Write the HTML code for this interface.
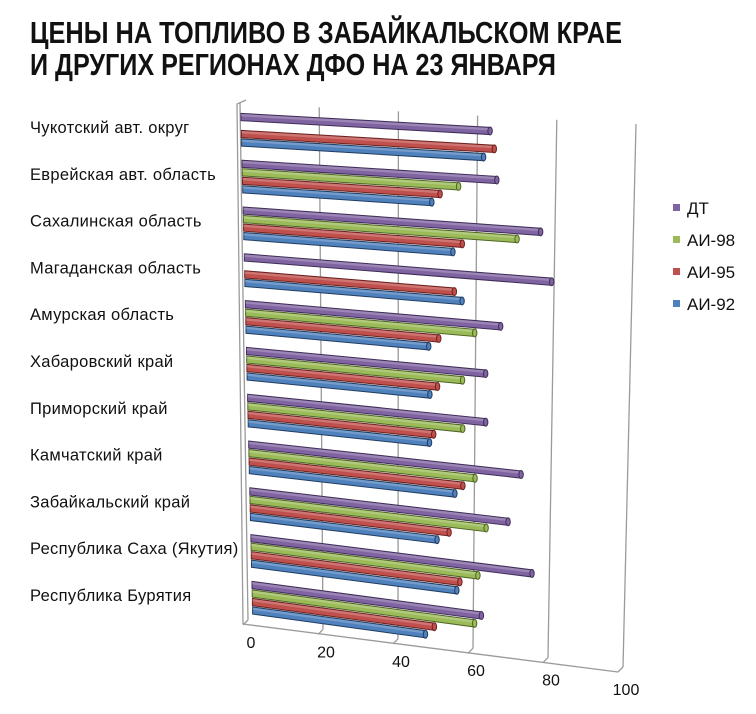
<!DOCTYPE html>
<html><head><meta charset="utf-8"><style>
html,body{margin:0;padding:0;background:#fff;}
svg{display:block;font-family:"Liberation Sans","Noto Sans CJK SC",sans-serif;}
</style></head><body>
<svg id="chart" width="756" height="714" viewBox="0 0 756 714">
<text x="30" y="43" font-size="31" font-weight="bold" textLength="592" lengthAdjust="spacingAndGlyphs" fill="#111">ЦЕНЫ НА ТОПЛИВО В ЗАБАЙКАЛЬСКОМ КРАЕ</text>
<text x="30" y="75" font-size="31" font-weight="bold" textLength="526" lengthAdjust="spacingAndGlyphs" fill="#111">И ДРУГИХ РЕГИОНАХ ДФО НА 23 ЯНВАРЯ</text>
<g id="grid"></g>
<g id="bars"></g>
<g id="labels"></g>
<g id="legend"></g>
</svg>
<script>
const categories = ["Чукотский авт. округ","Еврейская авт. область","Сахалинская  область","Магаданская  область","Амурская область","Хабаровский край","Приморский край","Камчатский край","Забайкальский  край","Республика Саха (Якутия)","Республика Бурятия"];
const seriesNames = ["ДТ","АИ-98","АИ-95","АИ-92"];
const dt   = [62.9,64.7,76,79,66,62.2,62.3,71.7,68.4,74.9,61.5];
const ai98 = [null,55,70,null,59.3,56.2,56.3,59.6,62.6,60.5,59.7];
const ai95 = [64,50.3,56,54,50,49.7,48.7,56.4,52.8,55.7,48.9];
const ai92 = [61.3,48.2,53.6,56,47.4,47.7,47.6,54.3,49.6,54.9,46.5];
const ticks = [0,20,40,60,80,100];

const NS="http://www.w3.org/2000/svg";
function mk(t,a,p){const e=document.createElementNS(NS,t);for(const k in a)e.setAttribute(k,a[k]);p.appendChild(e);return e;}
const series=[dt,ai98,ai95,ai92];
const edges=["#3f2d57","#4e6424","#6b2220","#203c60"];
const legCol=["#8064a2","#9bbb59","#c0504d","#4f81bd"];
const yTop=117,yBot=585;
function frac(y){return (y-yTop)/(yBot-yTop);}
function x0(y){return 241+frac(y)*11;}
function sc(y){return 3.96-frac(y)*0.23;}
function sl(y){return 0.056+frac(y)*0.077;}
function xAt(v,y){return x0(y)+v*sc(y);}
function groupY(i){return yTop+i*(yBot-yTop)/(categories.length-1);}

const grid=document.getElementById('grid');
const tickTop=[[240,103],[321,107],[397,111],[475,116],[555,120],[636,124]];
const tickBot=[[248,620],[327,620],[398,633],[473,650],[545,657],[623,667]];
ticks.forEach((t,i)=>{
  const xt=tickTop[0][0]+(t/100)*(tickTop[5][0]-tickTop[0][0]);
  const yt=tickTop[0][1]+(t/100)*(tickTop[5][1]-tickTop[0][1]);
  const xb=tickBot[0][0]+(t/100)*(tickBot[5][0]-tickBot[0][0]);
  const yb=tickBot[0][1]+(t/100)*(tickBot[5][1]-tickBot[0][1]);
  const l=mk('line',{x1:xt,y1:yt,x2:xb,y2:yb,stroke:'#9a9a9a','stroke-width':1.3},grid);
  
  
  const tk=mk('line',{x1:xb,y1:yb,x2:xb-5,y2:yb+5,stroke:'#9a9a9a','stroke-width':1.3},grid);
  
  
  const tx=mk('text',{x:xb+3,y:yb+28,'font-size':16,'text-anchor':'middle',fill:'#111'},grid);
  tx.textContent=t;
  
  
});
const fl=mk('line',{x1:243,y1:624,x2:618,y2:672,stroke:'#9a9a9a','stroke-width':1.3},grid);


const lw=mk('polyline',{points:'246,100 237,104 243,624',fill:'none',stroke:'#9a9a9a','stroke-width':1.3},grid);



const bars=document.getElementById('bars');
const labels=document.getElementById('labels');
categories.forEach((c,i)=>{
  const gy=groupY(i);
  for(let s=3;s>=0;s--){
    const v=series[s][i];
    if(v==null) continue;
    const y0=gy+s*8.5;
    const xs=x0(y0), xe=xAt(v,y0);
    const ye=y0+(xe-xs)*sl(y0);
    const h=3.6;
    const g=mk('g',{},bars);
    
    
    mk('polygon',{points:`${xs},${y0-h} ${xe},${ye-h} ${xe},${ye+h} ${xs},${y0+h}`,fill:legCol[s],stroke:edges[s],'stroke-width':1},g);
    mk('polygon',{points:`${xs},${y0-h+0.6} ${xe},${ye-h+0.6} ${xe},${ye-0.6} ${xs},${y0-0.6}`,fill:'#fff','fill-opacity':0.22},g);
    mk('ellipse',{cx:xe,cy:ye,rx:2.2,ry:h+0.4,fill:legCol[s],stroke:edges[s],'stroke-width':1},g);
  }
  const t=mk('text',{x:30,y:gy+16,'font-size':16.5,'letter-spacing':0.3,fill:'#111'},labels);
  t.textContent=c;
  
  
});

const leg=document.getElementById('legend');
seriesNames.forEach((n,i)=>{
  const y=208+i*32;
  const g=mk('g',{},leg);
  
  
  mk('rect',{x:673,y:y-4,width:7,height:7,fill:legCol[i]},g);
  const t=mk('text',{x:687,y:y+6,'font-size':17,fill:'#111'},g);
  t.textContent=n;
});
</script>
</body></html>
